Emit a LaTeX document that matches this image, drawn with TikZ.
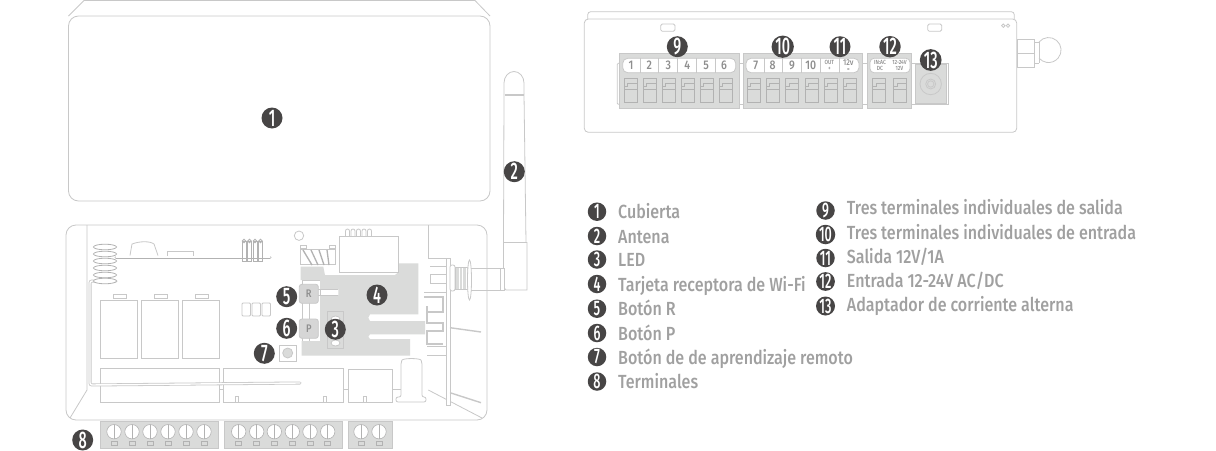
\documentclass[tikz,border=0pt]{standalone}
\usepackage{fontspec}
\setmainfont[FakeStretch=0.845]{Fira Sans Medium}
\newfontfamily\badgefont[FakeStretch=0.6]{Fira Sans Medium}
\usetikzlibrary{positioning}
\definecolor{linegray}{HTML}{C8C8C8}
\definecolor{boardgray}{HTML}{DADBDA}
\definecolor{badgegray}{HTML}{474545}
\definecolor{textgray}{HTML}{A0A0A0}
\definecolor{labelgray}{HTML}{8E8E8E}
\definecolor{darkline}{HTML}{B2B2B2}
\tikzstyle{part} = [draw=linegray, line width=0.8pt, fill=white]
\tikzstyle{outline} = [draw=linegray, line width=0.8pt]
\tikzstyle{board} = [draw=linegray, line width=0.6pt, fill=boardgray]
\tikzstyle{badge} = [circle, fill=badgegray, text=white, inner sep=0pt,
    minimum size=21pt, font=\badgefont\fontsize{24}{24}\selectfont]
\tikzstyle{keybadge} = [badge, minimum size=18.5pt, font=\badgefont\fontsize{21}{21}\selectfont]
\tikzstyle{keytext} = [text=textgray, inner sep=0pt, anchor=west, text height=14pt, text depth=4pt,
    font=\fontsize{19}{19}\selectfont]
\tikzstyle{pinlabel} = [text=labelgray, inner sep=0pt, font=\fontsize{12.5}{12.5}\selectfont]
\tikzstyle{tinylabel} = [text=labelgray, inner sep=0pt, align=center, font=\fontsize{6}{6.2}\selectfont]
\tikzstyle{btnlabel} = [text=labelgray, inner sep=0pt, font=\fontsize{11}{11}\selectfont]

\begin{document}
\begin{tikzpicture}[x=1pt,y=-1pt]
    \useasboundingbox (0,0) rectangle (1216,450);

    % cover
    \draw[outline] (68.5,16) -- (84,0.5) -- (475,0.5) -- (490,16);
    \draw[part, rounded corners=10pt] (68.5,16) rectangle (490,201);
    \node[badge] (n1) at (272,118) {1};

    % antenna
    \draw[part] (503.5,242.5) -- (503.5,287) -- (506,290) -- (527,290) -- (527,242.5) -- cycle;
    \draw[part] (500,268) rectangle (504,290);
    \draw[outline] (504,94) -- (504,83) arc[start angle=180, end angle=360, x radius=10, y radius=11.5] -- (524,94);
    \draw[outline] (504,94) -- (503.5,242.5) (524,94) -- (526,242.5);
    \draw[draw=linegray, line width=2.5pt] (505,95) -- (524,95);
    \node[badge] (n2) at (514.3,171.7) {2};

    % base
    \draw[part, rounded corners=10pt] (66,225) rectangle (487,420);
    \draw[outline] (87,225) -- (87,390) -- (70,418);
    \draw[outline] (428.3,225) -- (428.3,258);
    \draw[outline] (428.3,390) -- (482,418);

    % relays and blocks
    \foreach \x in {100,141,182} {
        \draw[part] (\x,300) rectangle +(37.5,58);
        \draw[part] (\x+13,294) rectangle +(13,4);
    }
    \foreach \x in {242,252,262}
        \draw[outline, rounded corners=1pt] (\x,303) rectangle +(8.5,13);
    \draw[outline] (219,389) -- (223,389) (343,389) -- (348,389) (392,389) -- (401,389);
    \draw[part] (100,368) rectangle (219,402);
    \draw[part] (223,368) rectangle (343,402);
    \draw[part] (348,369) rectangle (392,402);
    \foreach \x in {237,325,365}
        \draw[outline] (\x-1.5,396) rectangle +(3,6);
    \draw[part, rounded corners=2pt] (396,402) -- (396,397) -- (401,397) -- (401,362)
        .. controls (403,358) and (420,358) .. (422,362) -- (422,397) -- (426,397) -- (426,402) -- cycle;

    % coil and wires
    \draw[draw=darkline, line width=3pt, line cap=round] (116,257) -- (270,257);
    \draw[draw=white, line width=1.4pt, line cap=round] (116,257) -- (270,257);
    \draw[draw=linegray, line width=3pt, rounded corners=2pt, line cap=round] (116,281) -- (90,281) -- (90,385) -- (300,383);
    \draw[draw=white, line width=1.4pt, rounded corners=2pt, line cap=round] (116,281) -- (90,281) -- (90,385) -- (300,383);
    \foreach \y in {247,254,261,268,275,281}
        \draw[outline, draw=darkline, fill=white] (105,\y) ellipse[x radius=11.5, y radius=2.8];
    \draw[part] (130,255.5) -- (132,244) .. controls (140,241) and (150,241) .. (154,244) -- (158,255.5);
    \draw[part] (167.5,255.5) -- (167.5,251) -- (193,251) -- (193,255.5);
    \foreach \x in {244,249.5,255,260.5} {
        \draw[outline, draw=darkline] (\x-2,241) rectangle +(4,20);
        \draw[outline, draw=darkline] (\x,241) circle[radius=1.8];
    }

    % wifi board
    \draw[part] (302,280) rectangle (320,341);
    \fill[boardgray] (300.7,266.7) -- (323.3,266.7) -- (325,275) -- (395,275) -- (399,271.7) -- (399,263.3)
        -- (418.3,263.3) -- (418.3,314.3) -- (370,314.3) -- (368.3,317.7) -- (370,321) -- (425,321)
        -- (425,334.3) -- (370,334.3) -- (368.3,336.7) -- (370,339) -- (410,339) -- (410,355.7)
        -- (301.7,355.7) -- (301.7,341) -- (320,341) -- (320,295) -- (338.3,295) -- (338.3,289)
        -- (320,289) -- (320,280) -- (300.7,280) -- cycle;
    \draw[outline] (302,302) -- (302,319) (309,302) -- (309,319) (309,338) -- (309,341);
    \draw[outline] (318,289) -- (338.3,289) (318,295) -- (338.3,295);
    \draw[part] (339.3,236.7) rectangle (398.3,272.3);
    \foreach \x in {347.5,353,358.5,364,369.5}
        \draw[outline] (\x-2,236.7) -- (\x-2,231) arc[start angle=180, end angle=360, radius=2] -- (\x+2,236.7);
    \draw[outline] (299,235.7) circle[radius=4.7];
    \draw[outline] (300,249) rectangle (335,264);
    \draw[outline] (300,245) rectangle (306,248) (329,245) rectangle (335,248);
    \draw[draw=darkline, line width=1.3pt, fill=none] (303,250) -- (312,265) (311,250) -- (318,265) (319,250) -- (324,265) (327,250) -- (329,265);
    \draw[part, rounded corners=2.5pt, fill=linegray!75!white] (299.3,284.3) rectangle (318.3,303.3);
    \draw[part, rounded corners=2.5pt, fill=linegray!75!white] (299.3,319) rectangle (318.3,338.3);
    \node[btnlabel] (lblr) at (308.8,293.8) {R};
    \node[btnlabel] (lblp) at (308.8,328.7) {P};
    \draw[outline, fill=boardgray] (327.7,311.7) rectangle (343.3,348.3);
    \draw[part] (335.5,319) ellipse[x radius=4.5, y radius=3];
    \draw[part] (335.5,343) ellipse[x radius=4.5, y radius=3];
    \draw[part] (279.3,345) rectangle (296,361);
    \draw[outline, fill=boardgray] (287.7,353) circle[radius=5];

    % pcb antenna and heat plate
    \draw[outline] (428.3,258) -- (450,258);
    \draw[part] (430,266) -- (447,266) -- (447,274) -- (430,274) -- (430,283) -- (447,283) -- (447,292) -- (424,292);
    \draw[draw=linegray, line width=1.8pt] (424,297) -- (443,297) -- (443,312) -- (427,312) -- (427,306)
        (427,312) -- (427,323) -- (443,323) -- (443,331) -- (427,331) -- (427,344) -- (443,344);
    \draw[outline] (427,346) -- (447,346);
    \draw[part, fill=white] (446.7,258) rectangle (450,405);
    \draw[outline] (427,355) -- (446.7,355);
    \draw[draw=linegray, line width=1.4pt] (450,327.7) -- (481,332) (450,392.7) -- (481,402.7);

    % connector
    \draw[outline] (470,268) -- (500,268) (470,290) -- (500,290);
    \draw[part, rounded corners=2pt] (450,265) rectangle (455,291);
    \draw[outline, fill=boardgray] (455,267.5) rectangle (469,289);
    \foreach \x in {459,462.5,466}
        \draw[draw=white, line width=0.5pt] (\x,268) -- (\x,288.5);
    \draw[part] (469.5,280) ellipse[x radius=2, y radius=20];

    % badges on the base
    \node[badge] (n3) at (335.3,329.3) {3};
    \node[badge] (n4) at (377,295) {4};
    \node[badge] (n5) at (286.7,296.7) {5};
    \node[badge] (n6) at (286.7,328.3) {6};
    \node[badge] (n7) at (264.3,353.3) {7};
    \node[badge] (n8) at (82.7,440) {8};

    % bottom terminals
    \draw[board] (100.7,421) rectangle (218.7,448.3);
    \draw[board] (224,421) rectangle (342.7,448.3);
    \draw[board] (348.3,421) rectangle (392.7,448.3);
    \foreach \x in {114,132,150,168,186,204,238.7,256.7,274.3,292.3,310,327.7,361,379} {
        \draw[part, draw=darkline, line width=0.6pt] (\x,431.7) circle[radius=7.2];
        \draw[outline, draw=darkline, line width=0.6pt] (\x,424.5) -- (\x,438.9);
        \draw[outline, draw=darkline, line width=0.6pt] (\x-3,441.7) rectangle +(6,4);
    }

    % housing, rear view
    \draw[outline, rounded corners=3pt] (587.7,19) -- (587.7,11.7) -- (1014.3,11.7) -- (1014.3,19);
    \draw[part, rounded corners=4pt] (584.3,19) rectangle (1016.7,132.3);
    \draw[outline, rounded corners=1.5pt] (660.7,24) rectangle (675,31.3);
    \draw[outline, rounded corners=1.5pt] (927.7,24) rectangle (941.7,31.3);
    \draw[outline] (1003.3,25.7) circle[radius=1.7] (1008,25.7) circle[radius=1.7];
    \draw[outline] (1017,39.3) rectangle (1034,67.3) (1017,53) -- (1034,53);
    \draw[outline] (1034,42) -- (1039,42) (1034,63) -- (1039,63);
    \draw[outline] (1039,42) arc[start angle=-140, end angle=140, radius=12.5];
    \draw[outline] (1039,42) -- (1039,63);

    % strip behind the blocks
    \draw[outline, rounded corners=1pt] (619,63.3) -- (617.3,63.3) -- (617.3,104.3) -- (619,104.3);
    \draw[outline] (739,63.3) -- (743.3,63.3) (739,104.3) -- (743.3,104.3);
    \draw[outline] (862.3,63.3) -- (867.3,63.3) (862.3,104.3) -- (867.3,104.3);
    \draw[outline] (911.7,63.3) -- (948.7,63.3) -- (948.7,104.3) -- (911.7,104.3);
    \draw[board] (619.3,53.3) rectangle (739,108.3);
    \draw[board] (743.3,53.3) rectangle (862.3,108.3);
    \draw[board] (867.3,53.3) rectangle (911.7,108.3);
    \draw[board] (915,64.3) rectangle (946.7,103.3);

    % label strips
    \draw[part, rounded corners=5pt] (622.7,58.3) rectangle (735.7,72.7);
    \draw[part, rounded corners=5pt] (746,58.3) rectangle (859,72.7);
    \draw[part, rounded corners=4pt] (870,58.3) rectangle (910,72.7);
    \foreach \x in {640,658.7,677.7,696.7,715,764,782.3,801,820,839}
        \draw[outline] (\x,58.3) -- (\x,72.7);

    % rear terminals
    \foreach \x in {630.7,649.7,668.7,687.7,706.7,725.7,753.3,772.7,792,811.3,830.7,849.3,879,900} {
        \draw[draw=darkline, line width=0.6pt] (\x-6.5,78.3) rectangle +(13,24.4);
        \draw[draw=darkline, line width=0.6pt] (\x-6.5,86.5) -- (\x-3,86.5) -- (\x-3,83) -- (\x+6.5,83)
            (\x-6.5,89) -- (\x+6.5,89);
    }
    \foreach \x/\t in {631/1,649.3/2,668.3/3,687.3/4,706/5,724/6,755.7/7,772.7/8,792/9,810.7/10}
        \node[pinlabel] (pin\t) at (\x,65.5) {\t};
    \node[tinylabel] (lblout) at (829.3,65.5) {OUT\\+};
    \node[tinylabel] (lblv) at (848.3,65.5) {\fontsize{8.5}{8.5}\selectfont 12v\\=};
    \node[tinylabel] (lblin) at (880,65.5) {IN:AC\\DC};
    \node[tinylabel] (lblrange) at (899.5,65.5) {12-24V\\12V};

    \draw[outline] (930.7,84) circle[radius=10.7] (930.7,84) circle[radius=5] (930.7,84) circle[radius=3.2];

    % badges on the housing
    \node[badge] (n9) at (677.3,46.7) {9};
    \node[badge] (n10) at (782.7,46.7) {10};
    \node[badge] (n11) at (840,46.7) {11};
    \node[badge] (n12) at (890,46.7) {12};
    \node[badge] (n13) at (930.7,60) {13};

    % key
    \foreach \y/\t/\s in {211.7/1/Cubierta,236/2/Antena,259.5/3/LED,284/4/Tarjeta receptora de Wi-Fi,
        308.7/5/Botón R,333/6/Botón P,357/7/Botón de de aprendizaje remoto,381.5/8/Terminales} {
        \node[keybadge] (key\t) at (597,\y) {\t};
        \node[keytext] (keytext\t) at (618,\y+2) {\s};
    }
    \foreach \y/\ty/\t/\s in {210.5/207.5/9/Tres terminales individuales de salida,234.5/232/10/Tres terminales individuales de entrada,
        258/256/11/{Salida 12V/1A},281.5/280.5/12/{Entrada 12-24V AC/DC},306/304.5/13/Adaptador de corriente alterna} {
        \node[keybadge] (key\t) at (825.5,\y) {\t};
        \node[keytext] (keytext\t) at (846.7,\ty+2) {\s};
    }
\end{tikzpicture}
\end{document}
